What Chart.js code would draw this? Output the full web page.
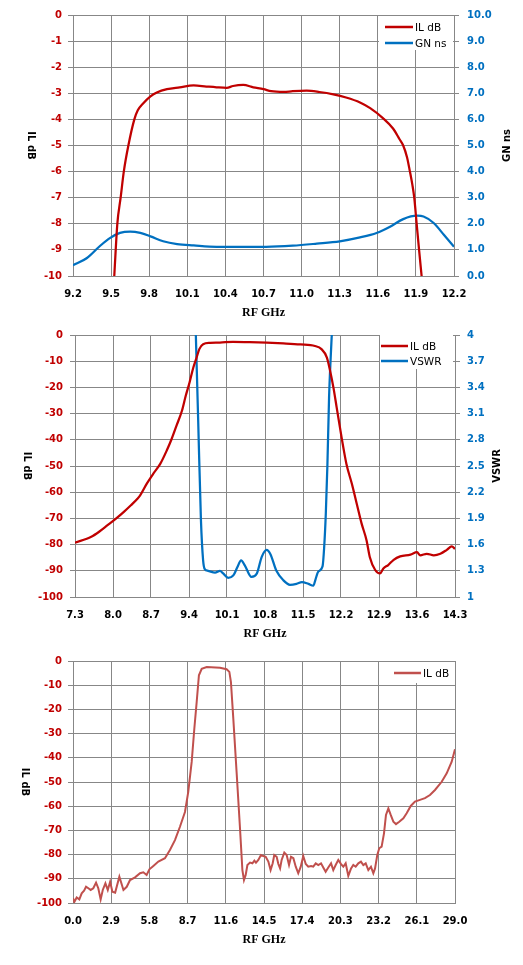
<!DOCTYPE html>
<html>
<head>
<meta charset="utf-8">
<title>Filter response</title>
<script src="https://cdn.jsdelivr.net/npm/chart.js@4.4.1/dist/chart.umd.min.js"></script>
<style>
  body { margin: 0; background: #fff; width: 523px; height: 965px; overflow: hidden; }
  .box { position: absolute; left: 0; width: 523px; }
</style>
</head>
<body>
<div class="box" style="top:0;height:322px"><canvas id="chart1"></canvas></div>
<div class="box" style="top:322px;height:321px"><canvas id="chart2"></canvas></div>
<div class="box" style="top:643px;height:306px"><canvas id="chart3"></canvas></div>

<script>
// ---- chart 1: passband IL + group delay ----
const X1_TICKS = [9.2, 9.5, 9.8, 10.1, 10.4, 10.7, 11.0, 11.3, 11.6, 11.9, 12.2];
const Y1_TICKS = [-10, -9, -8, -7, -6, -5, -4, -3, -2, -1, 0];
const Y1R_TICKS = [0, 1, 2, 3, 4, 5, 6, 7, 8, 9, 10];

const IL1_FREQ = [9.525, 9.549, 9.575, 9.60, 9.636, 9.683, 9.71, 9.75, 9.81, 9.86, 9.94, 10.04,
  10.15, 10.25, 10.33, 10.41, 10.46, 10.54, 10.62, 10.70, 10.76, 10.86, 10.93, 11.04, 11.14,
  11.25, 11.35, 11.46, 11.54, 11.64, 11.72, 11.77, 11.80, 11.83, 11.853, 11.872, 11.887,
  11.906, 11.925, 11.945];
const IL1_DB = [-10, -8, -7, -6, -5, -4, -3.65, -3.4, -3.12, -2.97, -2.84, -2.77,
  -2.70, -2.74, -2.77, -2.79, -2.72, -2.68, -2.77, -2.84, -2.92, -2.95, -2.92, -2.90, -2.95,
  -3.04, -3.16, -3.35, -3.57, -3.95, -4.35, -4.75, -5.0, -5.45, -6.0, -6.5, -7.0,
  -8.0, -9.0, -10];

const GN1_FREQ = [9.2, 9.31, 9.41, 9.49, 9.57, 9.65, 9.73, 9.81, 9.91, 10.02, 10.15, 10.33,
  10.51, 10.72, 10.93, 11.12, 11.30, 11.46, 11.59, 11.70, 11.80, 11.91, 11.96, 12.04, 12.12, 12.2];
const GN1_NS = [0.41, 0.69, 1.14, 1.45, 1.65, 1.70, 1.65, 1.52, 1.33, 1.22, 1.17, 1.12,
  1.12, 1.12, 1.16, 1.24, 1.33, 1.48, 1.65, 1.90, 2.18, 2.31, 2.28, 2.03, 1.58, 1.12];

// ---- chart 2: wide IL + VSWR ----
const X2_TICKS = [7.3, 8.0, 8.7, 9.4, 10.1, 10.8, 11.5, 12.2, 12.9, 13.6, 14.3];
const Y2_TICKS = [-100, -90, -80, -70, -60, -50, -40, -30, -20, -10, 0];
const Y2R_TICKS = [1, 1.3, 1.6, 1.9, 2.2, 2.5, 2.8, 3.1, 3.4, 3.7, 4];

const IL2_FREQ = [7.3, 7.6, 7.75, 7.9, 8.06, 8.2, 8.33, 8.45, 8.50, 8.62, 8.74, 8.87, 8.99,
  9.08, 9.17, 9.27, 9.34, 9.41, 9.48, 9.54, 9.59, 9.66, 9.79, 9.97, 10.21, 10.52, 10.83,
  11.14, 11.45, 11.72, 11.84, 11.94, 12.0, 12.06, 12.12, 12.21, 12.30, 12.40, 12.49,
  12.58, 12.67, 12.73, 12.83, 12.92, 12.98, 13.07, 13.17, 13.29, 13.48, 13.60, 13.66,
  13.78, 13.91, 14.03, 14.15, 14.24, 14.3];
const IL2_DB = [-79.3, -77.0, -75.0, -72.6, -70, -67.5, -65, -62.5, -61.2, -56.8, -53.0, -49.2, -44.1,
  -39.7, -34.6, -28.9, -23.2, -18.1, -12.4, -8.6, -5.4, -3.5, -3.0, -2.9, -2.6, -2.7, -2.9,
  -3.2, -3.6, -4.2, -5.4, -8.6, -13.7, -20.0, -27.6, -39.0, -49.2, -56.8, -64.4,
  -72.0, -78.3, -84.7, -89.7, -91.0, -89.1, -87.8, -85.8, -84.5, -83.8, -82.9, -84.1,
  -83.5, -84.1, -83.5, -82.0, -80.7, -81.6];

const VSWR2_FREQ = [9.526, 9.57, 9.62, 9.66, 9.69, 9.75, 9.88, 9.97, 10.03, 10.12, 10.22, 10.29,
  10.36, 10.43, 10.55, 10.65, 10.74, 10.83, 10.90, 11.01, 11.14, 11.26, 11.38, 11.48, 11.60,
  11.69, 11.73, 11.78, 11.86, 11.89, 11.92, 11.95, 11.98, 12.01, 12.03];
const VSWR2 = [4.0, 3.0, 1.88, 1.42, 1.32, 1.30, 1.28, 1.30, 1.27, 1.22, 1.25, 1.34,
  1.42, 1.36, 1.23, 1.27, 1.46, 1.54, 1.49, 1.30, 1.19, 1.14, 1.15, 1.17, 1.15,
  1.13, 1.20, 1.29, 1.35, 1.57, 1.95, 2.52, 3.28, 3.74, 4.0];

// ---- chart 3: broadband IL ----
const X3_TICKS = [0, 2.9, 5.8, 8.7, 11.6, 14.5, 17.4, 20.3, 23.2, 26.1, 29.0];
const Y3_TICKS = [-100, -90, -80, -70, -60, -50, -40, -30, -20, -10, 0];

const IL3_FREQ = [0.00, 0.10, 0.28, 0.48, 0.66, 0.84, 0.99, 1.17, 1.34, 1.54, 1.75, 1.92,
  2.10, 2.26, 2.46, 2.64, 2.82, 2.99, 3.20, 3.52, 3.83, 4.08, 4.33, 4.71, 5.09, 5.34,
  5.59, 5.80, 6.10, 6.48, 6.98, 7.36, 7.74, 8.12, 8.50, 8.75, 9.01, 9.21, 9.39, 9.56,
  9.77, 10.15, 11.16, 11.66, 11.87, 11.99, 12.17, 12.42, 12.68, 12.86, 12.98, 13.11,
  13.24, 13.44, 13.62, 13.77, 13.89, 14.07, 14.27, 14.45, 14.63, 14.83, 15.00, 15.16,
  15.28, 15.46, 15.59, 15.72, 15.84, 16.04, 16.22, 16.40, 16.55, 16.73, 16.91, 17.10,
  17.29, 17.48, 17.67, 17.86, 18.07, 18.24, 18.43, 18.62, 18.83, 19.00, 19.18, 19.38,
  19.59, 19.76, 19.94, 20.14, 20.35, 20.52, 20.70, 20.90, 21.11, 21.28, 21.46, 21.66,
  21.86, 22.04, 22.22, 22.42, 22.62, 22.80, 22.93, 23.10, 23.25, 23.43, 23.61, 23.76,
  23.94, 24.12, 24.32, 24.52, 24.77, 25.08, 25.33, 25.64, 25.96, 26.34, 26.72, 27.10,
  27.48, 27.99, 28.37, 28.75, 29.0];
const IL3_DB = [-98.0, -99.6, -97.7, -98.5, -96.0, -94.9, -93.3, -93.9, -94.6, -93.9, -91.6, -93.9,
  -98.5, -94.6, -91.9, -94.6, -91.2, -95.3, -95.7, -89.1, -94.6, -93.3, -90.5, -89.4, -87.7, -87.3,
  -88.4, -86.1, -84.7, -82.9, -81.5, -78.1, -74.0, -68.5, -62.4, -54.1, -41.7, -28.0, -16.9, -5.9,
  -3.2, -2.5, -2.8, -3.4, -4.5, -8.7, -23.8, -45.9, -69.3, -86.4, -90.5, -88.4,
  -84.3, -83.3, -83.6, -82.5, -83.3, -82.2, -80.2, -80.6, -80.9, -82.9, -86.4, -83.6,
  -80.2, -80.9, -83.9, -85.7, -82.2, -79.2, -80.2, -84.3, -80.9, -81.5, -85.0, -87.7,
  -85.0, -80.6, -83.9, -85.0, -84.7, -85.0, -83.6, -84.3, -83.6, -85.3, -87.1, -85.3,
  -83.6, -86.4, -84.3, -82.2, -83.9, -85.0, -83.6, -88.8, -85.7, -84.3, -85.0, -83.6,
  -82.9, -84.3, -83.6, -86.4, -85.0, -87.7, -85.7, -80.2, -77.4, -76.7, -71.2, -63.6,
  -60.9, -63.6, -66.4, -67.4, -66.4, -65.0, -62.9, -59.9, -58.1, -57.4, -56.7, -55.4,
  -53.3, -49.9, -46.4, -41.6, -36.5];

const RED = '#c00000';
const BLUE = '#0070c0';
const GRID = '#878787';

Chart.defaults.font.family = '"DejaVu Sans", sans-serif';
Chart.defaults.color = '#000';

function pts(xs, ys) {
  return xs.map((x, i) => ({ x: x, y: ys[i] }));
}

function sideTitle(ctx, text, x, y, angle) {
  ctx.save();
  ctx.translate(x, y);
  ctx.rotate(angle);
  ctx.font = 'bold 10px "DejaVu Sans"';
  ctx.fillStyle = '#000';
  ctx.textAlign = 'center';
  ctx.textBaseline = 'middle';
  ctx.fillText(text, 0, 0);
  ctx.restore();
}

// axis titles (left reads downwards, right reads upwards) + legend inside the plot
const overlay = {
  id: 'overlay',
  afterDraw(chart, args, opts) {
    const ctx = chart.ctx;
    const area = chart.chartArea;
    const midY = (area.top + area.bottom) / 2;
    sideTitle(ctx, opts.leftTitle.text, opts.leftTitle.x, midY, Math.PI / 2);
    if (opts.rightTitle) {
      sideTitle(ctx, opts.rightTitle.text, opts.rightTitle.x, midY, -Math.PI / 2);
    }
    const lg = opts.legend;
    ctx.save();
    ctx.fillStyle = '#fff';
    ctx.fillRect(lg.x, lg.y, lg.w, lg.h);
    chart.data.datasets.forEach((ds, i) => {
      const y = lg.rows[i];
      ctx.strokeStyle = ds.borderColor;
      ctx.lineWidth = 2.5;
      ctx.beginPath();
      ctx.moveTo(lg.lineX, y);
      ctx.lineTo(lg.lineX + lg.lineW, y);
      ctx.stroke();
      ctx.fillStyle = '#000';
      ctx.font = '10.5px "DejaVu Sans"';
      ctx.textAlign = 'left';
      ctx.textBaseline = 'middle';
      ctx.fillText(ds.label, lg.lineX + lg.lineW + 2, y + 1);
    });
    ctx.restore();
  }
};

function fixTicks(list) {
  return axis => { axis.ticks = list.map(v => ({ value: v })); };
}

function makeChart(id, spec) {
  const scales = {
    x: {
      type: 'linear',
      min: spec.xTicks[0],
      max: spec.xTicks[spec.xTicks.length - 1],
      afterBuildTicks: fixTicks(spec.xTicks),
      afterFit: axis => { axis.height = 46; },
      grid: { color: GRID, lineWidth: 1, drawTicks: false },
      border: { color: GRID },
      ticks: {
        autoSkip: false, maxRotation: 0, padding: 12,
        font: { size: 10, weight: 'bold' }, color: '#000',
        callback: v => Number(v).toFixed(1)
      },
      title: {
        display: true, text: 'RF GHz',
        font: { family: '"Liberation Serif", serif', size: 12, weight: 'bold' },
        padding: { top: 0, bottom: 2 }
      }
    },
    y: {
      position: 'left',
      min: spec.yTicks[0],
      max: spec.yTicks[spec.yTicks.length - 1],
      afterBuildTicks: fixTicks(spec.yTicks),
      afterFit: axis => { axis.width = spec.leftW; },
      grid: { color: GRID, lineWidth: 1, tickLength: 5 },
      border: { color: GRID },
      ticks: {
        autoSkip: false, padding: spec.leftPad,
        font: { size: 10, weight: 'bold' }, color: RED,
        callback: v => String(Math.round(v))
      }
    }
  };
  if (spec.y2Ticks) {
    scales.y2 = {
      position: 'right',
      min: spec.y2Ticks[0],
      max: spec.y2Ticks[spec.y2Ticks.length - 1],
      afterBuildTicks: fixTicks(spec.y2Ticks),
      afterFit: axis => { axis.width = spec.rightW; },
      grid: { color: GRID, lineWidth: 1, tickLength: 5, drawOnChartArea: false },
      border: { color: GRID },
      ticks: {
        autoSkip: false, padding: spec.rightPad,
        font: { size: 10, weight: 'bold' }, color: BLUE,
        callback: spec.y2Format
      }
    };
  }
  return new Chart(document.getElementById(id), {
    type: 'line',
    data: { datasets: spec.datasets },
    plugins: [overlay],
    options: {
      responsive: true,
      maintainAspectRatio: false,
      animation: false,
      layout: { padding: { top: spec.padTop, left: 0, right: spec.y2Ticks ? 0 : spec.rightW, bottom: 0 } },
      elements: { point: { radius: 0 } },
      scales: scales,
      plugins: {
        legend: { display: false },
        tooltip: { enabled: false },
        overlay: { legend: spec.legend, leftTitle: spec.leftTitle, rightTitle: spec.rightTitle }
      }
    }
  });
}

makeChart('chart1', {
  xTicks: X1_TICKS, yTicks: Y1_TICKS, y2Ticks: Y1R_TICKS,
  y2Format: v => Number(v).toFixed(1),
  padTop: 15, leftW: 73, rightW: 69, leftPad: 6, rightPad: 8,
  leftTitle: { text: 'IL dB', x: 31 },
  rightTitle: { text: 'GN ns', x: 507 },
  legend: { x: 379, y: 16, w: 74, h: 34, lineX: 385, lineW: 28, rows: [27, 43] },
  datasets: [
    { label: 'IL dB', data: pts(IL1_FREQ, IL1_DB), yAxisID: 'y',
      borderColor: RED, borderWidth: 2.25, cubicInterpolationMode: 'monotone' },
    { label: 'GN ns', data: pts(GN1_FREQ, GN1_NS), yAxisID: 'y2',
      borderColor: BLUE, borderWidth: 2.25, cubicInterpolationMode: 'monotone' }
  ]
});

makeChart('chart2', {
  xTicks: X2_TICKS, yTicks: Y2_TICKS, y2Ticks: Y2R_TICKS,
  y2Format: v => String(Number(Number(v).toFixed(1))),
  padTop: 12, leftW: 75, rightW: 68, leftPad: 7, rightPad: 7,
  leftTitle: { text: 'IL dB', x: 27 },
  rightTitle: { text: 'VSWR', x: 497 },
  legend: { x: 380, y: 13, w: 73, h: 34, lineX: 381, lineW: 27, rows: [24, 39] },
  datasets: [
    { label: 'IL dB', data: pts(IL2_FREQ, IL2_DB), yAxisID: 'y',
      borderColor: RED, borderWidth: 2.25, cubicInterpolationMode: 'monotone' },
    { label: 'VSWR', data: pts(VSWR2_FREQ, VSWR2), yAxisID: 'y2',
      borderColor: BLUE, borderWidth: 2.25, cubicInterpolationMode: 'monotone' }
  ]
});

makeChart('chart3', {
  xTicks: X3_TICKS, yTicks: Y3_TICKS,
  padTop: 18, leftW: 73, rightW: 68, leftPad: 6,
  leftTitle: { text: 'IL dB', x: 25 },
  legend: { x: 390, y: 19, w: 63, h: 21, lineX: 394, lineW: 27, rows: [30] },
  datasets: [
    { label: 'IL dB', data: pts(IL3_FREQ, IL3_DB), yAxisID: 'y',
      borderColor: '#c0504d', borderWidth: 2, tension: 0 }
  ]
});
</script>
</body>
</html>
